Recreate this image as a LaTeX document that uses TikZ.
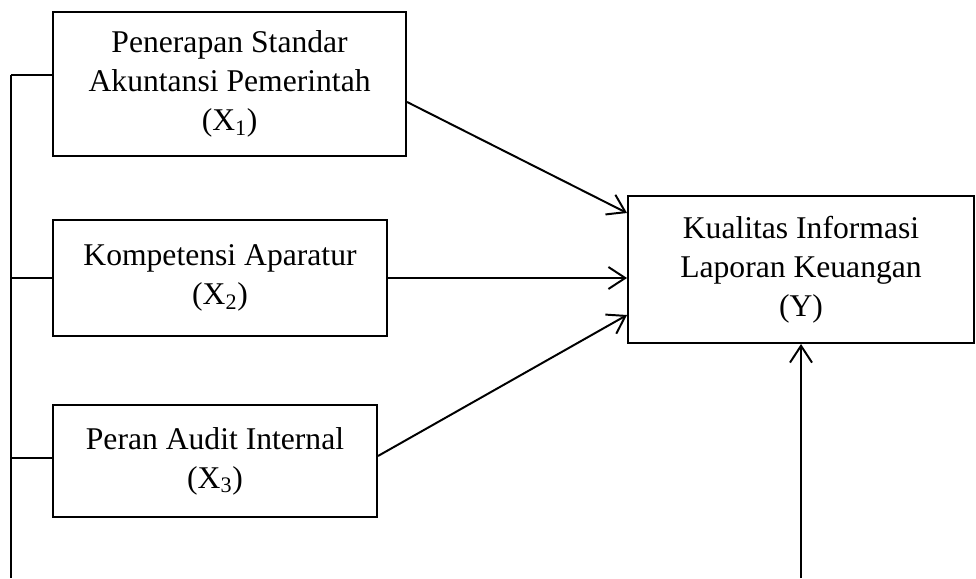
\documentclass[tikz,border=0pt]{standalone}
\usepackage{fontspec}
\setmainfont{Liberation Serif}
\usetikzlibrary{arrows.meta}

\begin{document}
\begin{tikzpicture}[
  varbox/.style={draw, line width=1.4pt, align=center, inner sep=0pt, font=\fontsize{22.5}{27.8}\selectfont},
  link/.style={line width=1.4pt, -{Straight Barb[length=0.42cm,width=0.55cm]}},
  rail/.style={line width=1.4pt}
]
\useasboundingbox (0,0) rectangle (24.4,14.45);

%variables
\node[varbox, minimum width=8.825cm, minimum height=3.6cm] (x1) at (5.74,12.35) {Penerapan Standar\\Akuntansi Pemerintah\\(X\textsubscript{1})};
\node[varbox, minimum width=8.35cm, minimum height=2.9cm] (x2) at (5.5,7.5) {Kompetensi Aparatur\\(X\textsubscript{2})};
\node[varbox, minimum width=8.1cm, minimum height=2.8cm] (x3) at (5.375,2.925) {Peran Audit Internal\\(X\textsubscript{3})};
\node[varbox, minimum width=8.65cm, minimum height=3.675cm] (y) at (20.025,7.7125) {Kualitas Informasi\\Laporan Keuangan\\(Y)};

%left rail
\coordinate (railtop) at (0.275,12.575);
\coordinate (railbottom) at (0.275,0);
\draw[rail] (railtop) -- (railbottom);
\draw[rail] (railtop) -- (railtop -| x1.west);
\draw[rail] (x2.west) -- (x2.west -| railtop);
\draw[rail] ([yshift=0.075cm]x3.west) -- ([yshift=0.075cm]x3.west -| railtop);

%arrows
\draw[link] ([yshift=-0.45cm]x1.east) -- ([yshift=1.4125cm]y.west);
\draw[link] (x2.east) -- (x2.east -| y.west);
\draw[link] ([yshift=0.125cm]x3.east) -- ([yshift=-1.1375cm]y.west);

\coordinate (ybase) at (y.south |- railbottom);
\draw[link] (ybase) -- (y.south);

\end{tikzpicture}
\end{document}
